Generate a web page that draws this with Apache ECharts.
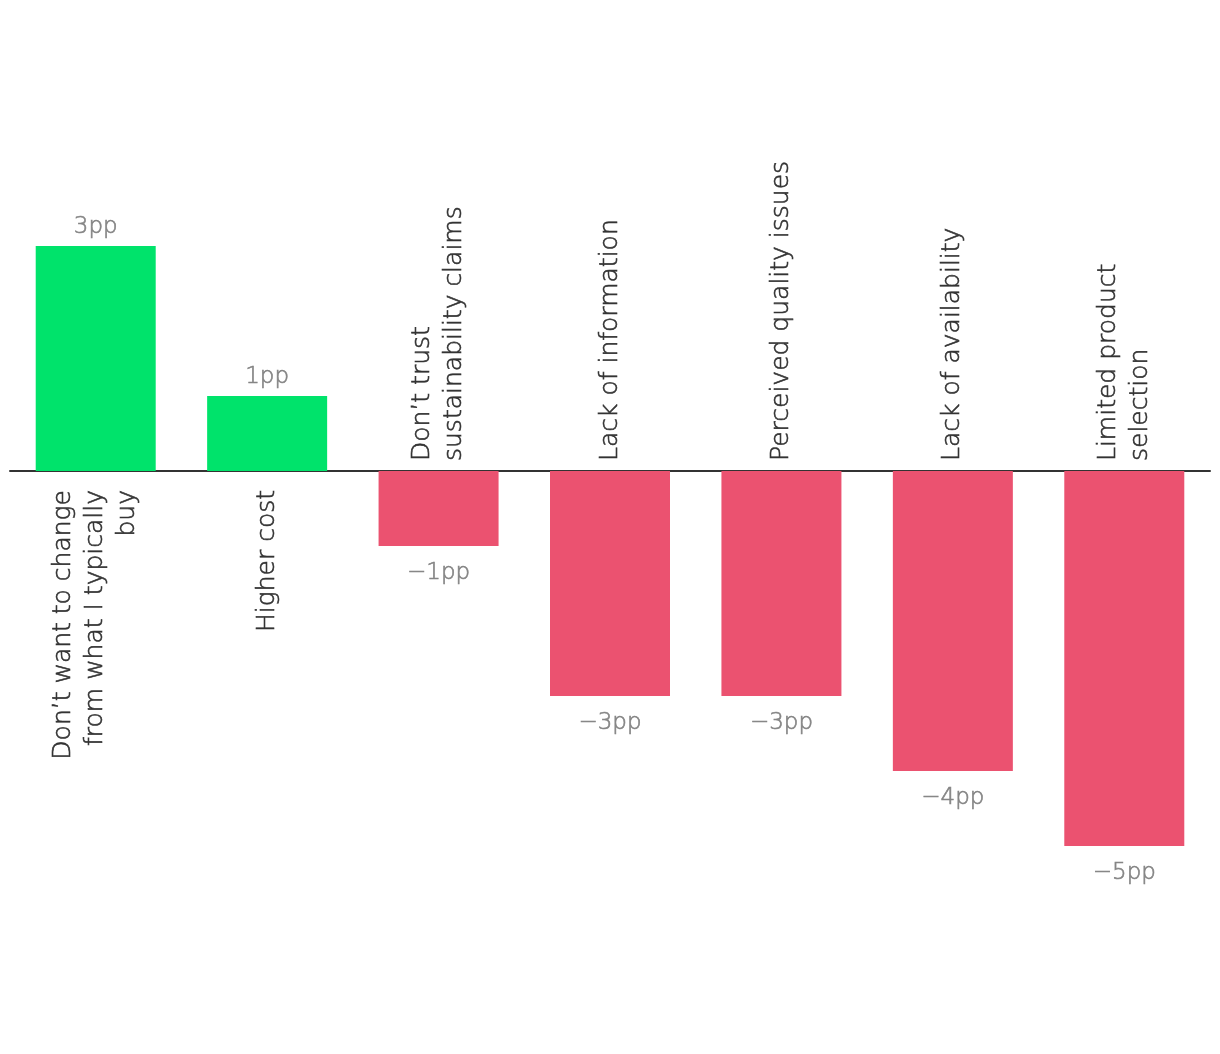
<!DOCTYPE html>
<html>
<head>
<meta charset="utf-8">
<script src="https://cdn.jsdelivr.net/npm/echarts@6/dist/echarts.min.js"></script>
<style>
html,body{margin:0;padding:0;background:#fff;}
#chart{width:1220px;height:1054px;}
</style>
</head>
<body>
<div id="chart"></div>
<script>
const categories = [
  "Don\u2019t want to change\nfrom what I typically\nbuy",
  "Higher cost",
  "Don\u2019t trust\nsustainability claims",
  "Lack of information",
  "Perceived quality issues",
  "Lack of availability",
  "Limited product\nselection"
];
const values = [3, 1, -1, -3, -3, -4, -5];
const positiveColor = "#00E36B";
const negativeColor = "#EB5270";

const FONT = "'DejaVu Sans Light', 'DejaVu Sans', sans-serif";
const gridTop = 246, gridBottom = 208, yMax = 3, yMin = -5;

const catLabelBelow = {
  position: 'bottom', distance: 19, rotate: 90, align: 'right', verticalAlign: 'middle'
};
const catLabelAbove = {
  position: 'top', distance: 10, rotate: 90, align: 'left', verticalAlign: 'middle'
};

const chart = echarts.init(document.getElementById('chart'));
chart.setOption({
  animation: false,
  grid: { left: 10, right: 10, top: gridTop, bottom: gridBottom, outerBoundsMode: 'none' },
  xAxis: {
    type: 'category',
    data: categories,
    axisLine: { show: true, onZero: true, lineStyle: { color: '#333', width: 2 } },
    axisTick: { show: false },
    axisLabel: { show: false }
  },
  yAxis: { type: 'value', min: yMin, max: yMax, show: false, splitLine: { show: false } },
  series: [
    {
      name: 'categoryLabels',
      type: 'bar',
      barWidth: 120,
      barGap: '-100%',
      silent: true,
      z: 1,
      itemStyle: { color: 'rgba(0,0,0,0)' },
      data: values.map((v, i) => ({
        value: v,
        label: v > 0 ? catLabelBelow : catLabelAbove
      })),
      label: {
        show: true,
        fontFamily: FONT, fontSize: 25, lineHeight: 32, color: '#333',
        textBorderColor: '#333', textBorderWidth: 0.6,
        formatter: p => categories[p.dataIndex]
      }
    },
    {
      name: 'change',
      type: 'bar',
      data: values.map(v => ({
        value: v,
        label: { distance: v > 0 ? 7 : 16 }
      })),
      barWidth: 120,
      barGap: '-100%',
      z: 2,
      itemStyle: { color: p => p.value >= 0 ? positiveColor : negativeColor },
      label: {
        show: true, position: 'outside',
        fontFamily: FONT, fontSize: 23, color: '#858585',
        textBorderColor: '#858585', textBorderWidth: 0.6,
        formatter: p => (p.value < 0 ? '\u2212' + Math.abs(p.value) : p.value) + 'pp'
      }
    }
  ]
});
</script>
</body>
</html>
